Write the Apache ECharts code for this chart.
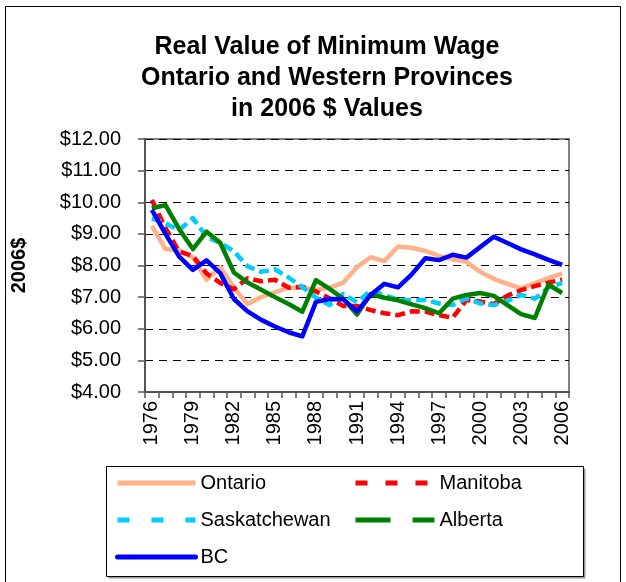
<!DOCTYPE html>
<html>
<head>
<meta charset="utf-8">
<script src="https://cdn.jsdelivr.net/npm/echarts@6/dist/echarts.min.js"></script>
<style>html,body{margin:0;padding:0;background:#fff}#c{width:626px;height:582px}</style>
</head>
<body>
<div id="c"></div>
<script>
const years = ['1976','1977','1978','1979','1980','1981','1982','1983','1984','1985','1986','1987','1988','1989','1990','1991','1992','1993','1994','1995','1996','1997','1998','1999','2000','2001','2002','2003','2004','2005','2006'];
const ontario = [9.25,8.52,8.48,8.25,7.55,7.95,7.30,6.78,7.00,7.15,7.30,7.30,7.23,7.30,7.46,7.95,8.26,8.14,8.60,8.56,8.46,8.30,8.20,8.12,7.80,7.58,7.42,7.28,7.44,7.60,7.75];
const manitoba = [10.07,9.18,8.44,8.30,7.75,7.45,7.25,7.60,7.50,7.55,7.30,7.33,7.18,6.96,6.72,6.72,6.59,6.49,6.43,6.55,6.54,6.43,6.35,6.91,6.86,6.78,7.05,7.22,7.35,7.46,7.55];
const saskatchewan = [9.49,9.33,9.12,9.50,8.91,8.71,8.45,7.97,7.80,7.88,7.62,7.32,6.98,6.75,7.10,6.84,7.20,7.07,6.92,6.90,6.91,6.80,6.75,6.96,6.80,6.75,6.88,7.07,6.95,7.30,7.45];
const alberta = [9.81,9.91,9.15,8.52,9.07,8.72,7.78,7.46,7.23,7.00,6.78,6.54,7.54,7.26,6.95,6.45,7.10,6.98,6.90,6.77,6.65,6.49,6.95,7.07,7.13,7.04,6.75,6.46,6.34,7.40,7.13];
const bc = [9.76,9.00,8.28,7.86,8.16,7.76,6.94,6.55,6.28,6.07,5.89,5.76,6.85,6.94,6.93,6.55,7.07,7.42,7.31,7.72,8.23,8.17,8.34,8.25,8.58,8.91,8.71,8.51,8.35,8.18,8.02];
const yTicks = [4,5,6,7,8,9,10,11,12];
const titleText = 'Real Value of Minimum Wage\nOntario and Western Provinces\nin 2006 $ Values';

const FONT = '"Liberation Sans", Arial, sans-serif';
const chart = echarts.init(document.getElementById('c'), null, {renderer: 'canvas'});

function mkSeries(name, data, color, dash) {
  return {
    name: name, type: 'line', data: data, symbol: 'none', showSymbol: false,
    lineStyle: {color: color, width: 4.5, type: dash, join: 'round'},
    itemStyle: {color: color},
    emphasis: {disabled: true}, animation: false
  };
}
function mkLegend(name, left, top, w, dash, cap) {
  return {
    data: [name], left: left, top: top, padding: 0, itemWidth: w, itemHeight: 20,
    textStyle: {fontFamily: FONT, fontSize: 20, color: '#000'},
    lineStyle: {width: 5, type: dash, cap: cap || 'butt'},
    itemStyle: {color: 'rgba(0,0,0,0)', borderColor: 'rgba(0,0,0,0)', borderWidth: 0, opacity: 0},
    selectedMode: false
  };
}

chart.setOption({
  backgroundColor: '#fff',
  animation: false,
  title: {
    text: titleText, left: 322, top: 27, textAlign: 'center',
    textStyle: {fontFamily: FONT, fontSize: 25, fontWeight: 'bold', color: '#000', lineHeight: 31}
  },
  grid: {left: 145, right: 57, top: 139, bottom: 190, show: true, borderColor: '#808080', borderWidth: 2, backgroundColor: 'transparent'},
  xAxis: {
    type: 'category', data: years, boundaryGap: true,
    axisLine: {lineStyle: {color: '#555', width: 2}},
    axisTick: {show: true, interval: 0, length: 6, lineStyle: {color: '#555', width: 1.5}},
    axisLabel: {interval: 2, rotate: 90, margin: 9, fontFamily: FONT, fontSize: 20, color: '#000'},
    splitLine: {show: false}
  },
  yAxis: {
    type: 'value', min: yTicks[0], max: yTicks[yTicks.length - 1], interval: 1,
    name: '2006$', nameLocation: 'middle', nameRotate: 90, nameGap: 116,
    nameTextStyle: {fontFamily: FONT, fontSize: 20, fontWeight: 'bold', color: '#000'},
    axisLine: {show: true, lineStyle: {color: '#555', width: 2}},
    axisTick: {show: true, length: 7, lineStyle: {color: '#555', width: 1.5}},
    axisLabel: {margin: 24, fontFamily: FONT, fontSize: 20, color: '#000', formatter: v => '$' + v.toFixed(2)},
    splitLine: {show: true, lineStyle: {color: '#000', width: 1, type: [8, 6]}}
  },
  legend: [
    mkLegend('Ontario', 115, 473, 78, 'solid'),
    mkLegend('Manitoba', 353, 473, 79, [12, 18]),
    mkLegend('Saskatchewan', 115, 510, 78, [12, 22]),
    mkLegend('Alberta', 353, 510, 79, [35, 22]),
    mkLegend('BC', 115, 547, 78, 'solid', 'round')
  ],
  graphic: [
    {type: 'rect', shape: {x: 5.5, y: 6.5, width: 615, height: 580}, style: {fill: 'none', stroke: '#000', lineWidth: 1}, silent: true, z: -1},
    {type: 'rect', shape: {x: 108.5, y: 468.5, width: 477, height: 110}, style: {fill: '#9a9a9a'}, silent: true, z: -2},
    {type: 'rect', shape: {x: 106.5, y: 466.5, width: 477, height: 110}, style: {fill: '#fff', stroke: '#000', lineWidth: 1}, silent: true, z: -1}
  ],
  series: [
    mkSeries('Ontario', ontario, '#FFB28A', 'solid'),
    mkSeries('Manitoba', manitoba, '#FF0000', [10, 5]),
    mkSeries('Saskatchewan', saskatchewan, '#00CCFF', [10, 5]),
    mkSeries('Alberta', alberta, '#008000', 'solid'),
    mkSeries('BC', bc, '#0000FF', 'solid')
  ]
});
</script>
</body>
</html>
